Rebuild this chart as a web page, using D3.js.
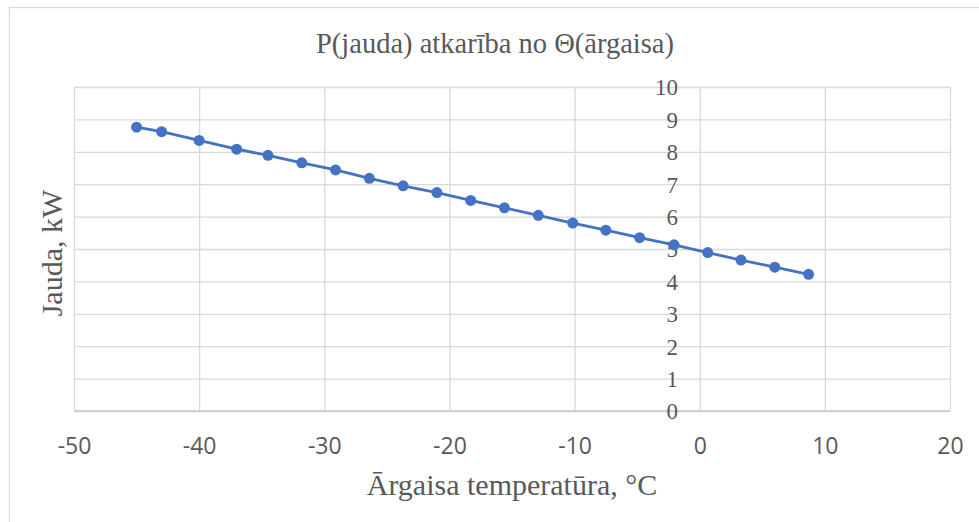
<!DOCTYPE html>
<html>
<head>
<meta charset="utf-8">
<script src="https://cdn.jsdelivr.net/npm/d3@7"></script>
<style>
  body { margin: 0; background: white; }
</style>
</head>
<body>
<div id="container"></div>
<script>
// data
let temperatures = [-45, -43, -40, -37, -34.5, -31.8, -29.1, -26.4, -23.7, -21, -18.3, -15.6, -12.9, -10.15, -7.5, -4.8, -2.05, 0.64, 3.3, 6, 8.7];
let powers = [8.76, 8.62, 8.35, 8.08, 7.89, 7.66, 7.44, 7.18, 6.95, 6.74, 6.5, 6.27, 6.04, 5.8, 5.58, 5.35, 5.13, 4.89, 4.66, 4.44, 4.22];
let xTicks = [-50, -40, -30, -20, -10, 0, 10, 20];
let yTicks = [0, 1, 2, 3, 4, 5, 6, 7, 8, 9, 10];
let chartTitle = "P(jauda) atkarība no Θ(ārgaisa)";
let xTitle = "Ārgaisa temperatūra, °C";
let yTitle = "Jauda, kW";

let w = 979;
let h = 522;
let viz = d3.select("#container").append("svg")
    .attr("width", w)
    .attr("height", h)
    .style("background-color", "white");

let grey = "#595959";
let gridColor = "#d9d9d9";
let serif = "Liberation Serif, Times New Roman, serif";
let sans = "Open Sans, Liberation Sans, sans-serif";

// outer chart frame
viz.append("rect")
    .attr("x", 9.5).attr("y", 7.5)
    .attr("width", 1000).attr("height", 600)
    .attr("fill", "white")
    .attr("stroke", gridColor)
    .attr("stroke-width", 1.3);

let xScale = d3.scaleLinear().domain([-50, 20]).range([74, 950]);
let yScale = d3.scaleLinear().domain([0, 10]).range([411, 87]);

// grid lines
let xGrid = d3.axisBottom(xScale).tickValues(xTicks).tickSize(-(yScale(0) - yScale(10))).tickFormat("");
viz.append("g").attr("class", "xGrid")
    .attr("transform", "translate(0, " + yScale(0) + ")")
    .call(xGrid);

let yGrid = d3.axisLeft(yScale).tickValues(yTicks).tickSize(-(xScale(20) - xScale(-50))).tickFormat("");
viz.append("g").attr("class", "yGrid")
    .attr("transform", "translate(" + xScale(-50) + ", 0)")
    .call(yGrid);

viz.selectAll(".xGrid line, .yGrid line").attr("stroke", gridColor).attr("stroke-width", 1.3);
viz.selectAll(".xGrid .domain, .yGrid .domain").remove();

// horizontal axis line
viz.append("line")
    .attr("x1", xScale(-50)).attr("x2", xScale(20))
    .attr("y1", yScale(0)).attr("y2", yScale(0))
    .attr("stroke", "#c8c8c8").attr("stroke-width", 1.5);

// x tick labels (below the plot), plain hyphen for minus
let xAxis = d3.axisBottom(xScale).tickValues(xTicks).tickSize(0).tickPadding(0)
    .tickFormat(function(d) { return String(d); });
let xAxisGroup = viz.append("g").attr("class", "xAxis")
    .attr("font-family", null)
    .attr("font-size", null)
    .attr("transform", "translate(0, " + yScale(0) + ")")
    .call(xAxis);
xAxisGroup.select(".domain").remove();
xAxisGroup.selectAll("text")
    .attr("y", 0).attr("dy", 43)
    .style("font-family", sans)
    .style("font-size", "23px")
    .attr("fill", grey);

// y tick labels, sitting next to the value axis near 0
let yAxisX = 678;
let yAxis = d3.axisLeft(yScale).tickValues(yTicks).tickSize(0).tickPadding(0);
let yAxisGroup = viz.append("g").attr("class", "yAxis")
    .attr("transform", "translate(" + yAxisX + ", 0)")
    .call(yAxis);
yAxisGroup.select(".domain").remove();
yAxisGroup.selectAll("text")
    .attr("x", 0)
    .attr("dy", "0.34em")
    .style("font-family", serif)
    .style("font-size", "23px")
    .attr("fill", grey);

// the data line
let points = temperatures.map(function(t, i) { return {x: t, y: powers[i]}; });
let lineMaker = d3.line()
    .x(function(d) { return xScale(d.x); })
    .y(function(d) { return yScale(d.y); });

viz.append("path")
    .datum(points)
    .attr("d", lineMaker)
    .attr("fill", "none")
    .attr("stroke", "#4472C4")
    .attr("stroke-width", 2.8);

viz.selectAll(".dot").data(points).enter().append("circle")
    .attr("class", "dot")
    .attr("cx", function(d) { return xScale(d.x); })
    .attr("cy", function(d) { return yScale(d.y); })
    .attr("r", 5.5)
    .attr("fill", "#4472C4");

// titles
viz.append("text")
    .attr("x", 495).attr("y", 53)
    .attr("text-anchor", "middle")
    .style("font-family", serif)
    .style("font-size", "28.5px")
    .attr("fill", grey)
    .text(chartTitle);

viz.append("text")
    .attr("x", 512).attr("y", 495)
    .attr("text-anchor", "middle")
    .style("font-family", serif)
    .style("font-size", "30px")
    .attr("fill", grey)
    .text(xTitle);

viz.append("text")
    .attr("transform", "translate(62, 253) rotate(-90)")
    .attr("text-anchor", "middle")
    .style("font-family", serif)
    .style("font-size", "30px")
    .attr("fill", grey)
    .text(yTitle);
</script>
</body>
</html>
